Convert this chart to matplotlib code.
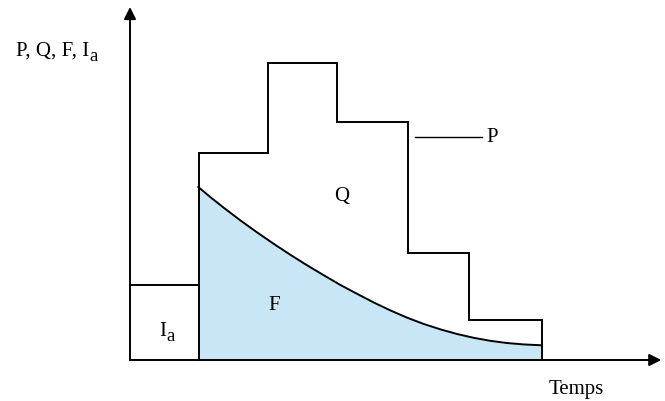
import matplotlib
matplotlib.use("Agg")
import matplotlib.pyplot as plt

plt.rcParams['font.family'] = ['Liberation Serif', 'DejaVu Serif']

# time breakpoints of the rainfall blocks and their heights
t_edges = [1.0, 2.0, 3.0, 4.03, 4.91, 5.97]
p_values = [20.7, 29.7, 23.8, 10.7, 4.0]

# initial abstraction block
ia_start, ia_end = 0.0, 1.0
ia_value = 7.5

# infiltration curve
f_time = [0.99, 1.15, 1.35, 1.60, 1.84, 2.08, 2.32, 2.56, 2.80, 3.05, 3.29,
          3.53, 3.77, 4.01, 4.25, 4.50, 4.74, 4.98, 5.22, 5.46, 5.70, 5.97]
f_values = [17.3, 16.37, 15.27, 13.96, 12.77, 11.63, 10.54, 9.5, 8.51, 7.5,
            6.62, 5.76, 4.97, 4.25, 3.62, 3.06, 2.6, 2.22, 1.92, 1.70,
            1.56, 1.47]

fig = plt.figure(figsize=(6.65, 4.02), dpi=100)
ax = fig.add_axes([0, 0, 1, 1])
ax.set_xlim(-130 / 69, 535 / 69)
ax.set_ylim(-4.1, 36.1)
ax.axis('off')

lw = 1.4
fs = 15
fill_col = '#c8e6f6'

# F area
ax.fill_between(f_time, 0, f_values, color=fill_col, lw=0)
ax.plot(f_time, f_values, color='black', lw=lw)

# Ia box
ax.plot([ia_start, ia_end], [ia_value, ia_value], color='black', lw=lw)

# P step outline
xs = [t_edges[0], t_edges[0]]
ys = [0, p_values[0]]
for i, p in enumerate(p_values):
    xs += [t_edges[i + 1], t_edges[i + 1]]
    ys += [p, p_values[i + 1] if i + 1 < len(p_values) else 0]
ax.plot(xs, ys, color='black', lw=lw, solid_joinstyle='miter')

# axes with arrows
ax.annotate('', xy=(7.70, 0), xytext=(0, 0),
            arrowprops=dict(arrowstyle='-|>', color='black', lw=lw,
                            mutation_scale=18, shrinkA=0, shrinkB=0))
ax.annotate('', xy=(0, 35.3), xytext=(0, 0),
            arrowprops=dict(arrowstyle='-|>', color='black', lw=lw,
                            mutation_scale=18, shrinkA=0, shrinkB=0))

# P label with leader line
ax.plot([4.13, 5.10], [22.3, 22.3], color='black', lw=1.0)
ax.text(5.16, 22.3, 'P', fontsize=fs, ha='left', va='center')

ax.text(3.07, 16.5, 'Q', fontsize=fs, ha='center', va='center')
ax.text(2.09, 5.6, 'F', fontsize=fs, ha='center', va='center')


def sub_a(parent):
    # subscript "a" placed just after the parent text
    ax.annotate('a', xy=(1, 0.22), xycoords=parent, xytext=(0.3, 0),
                textcoords='offset points', fontsize=fs - 1.5,
                ha='left', va='center')


t_ia = ax.text(0.52, 3.0, 'I', fontsize=fs, ha='right', va='center')
sub_a(t_ia)

ax.text(6.47, -2.9, 'Temps', fontsize=fs, ha='center', va='center')
t_lab = ax.text(-1.655, 31.0, 'P, Q, F, I', fontsize=fs, ha='left', va='center')
sub_a(t_lab)

fig.savefig('out.png', dpi=100)
